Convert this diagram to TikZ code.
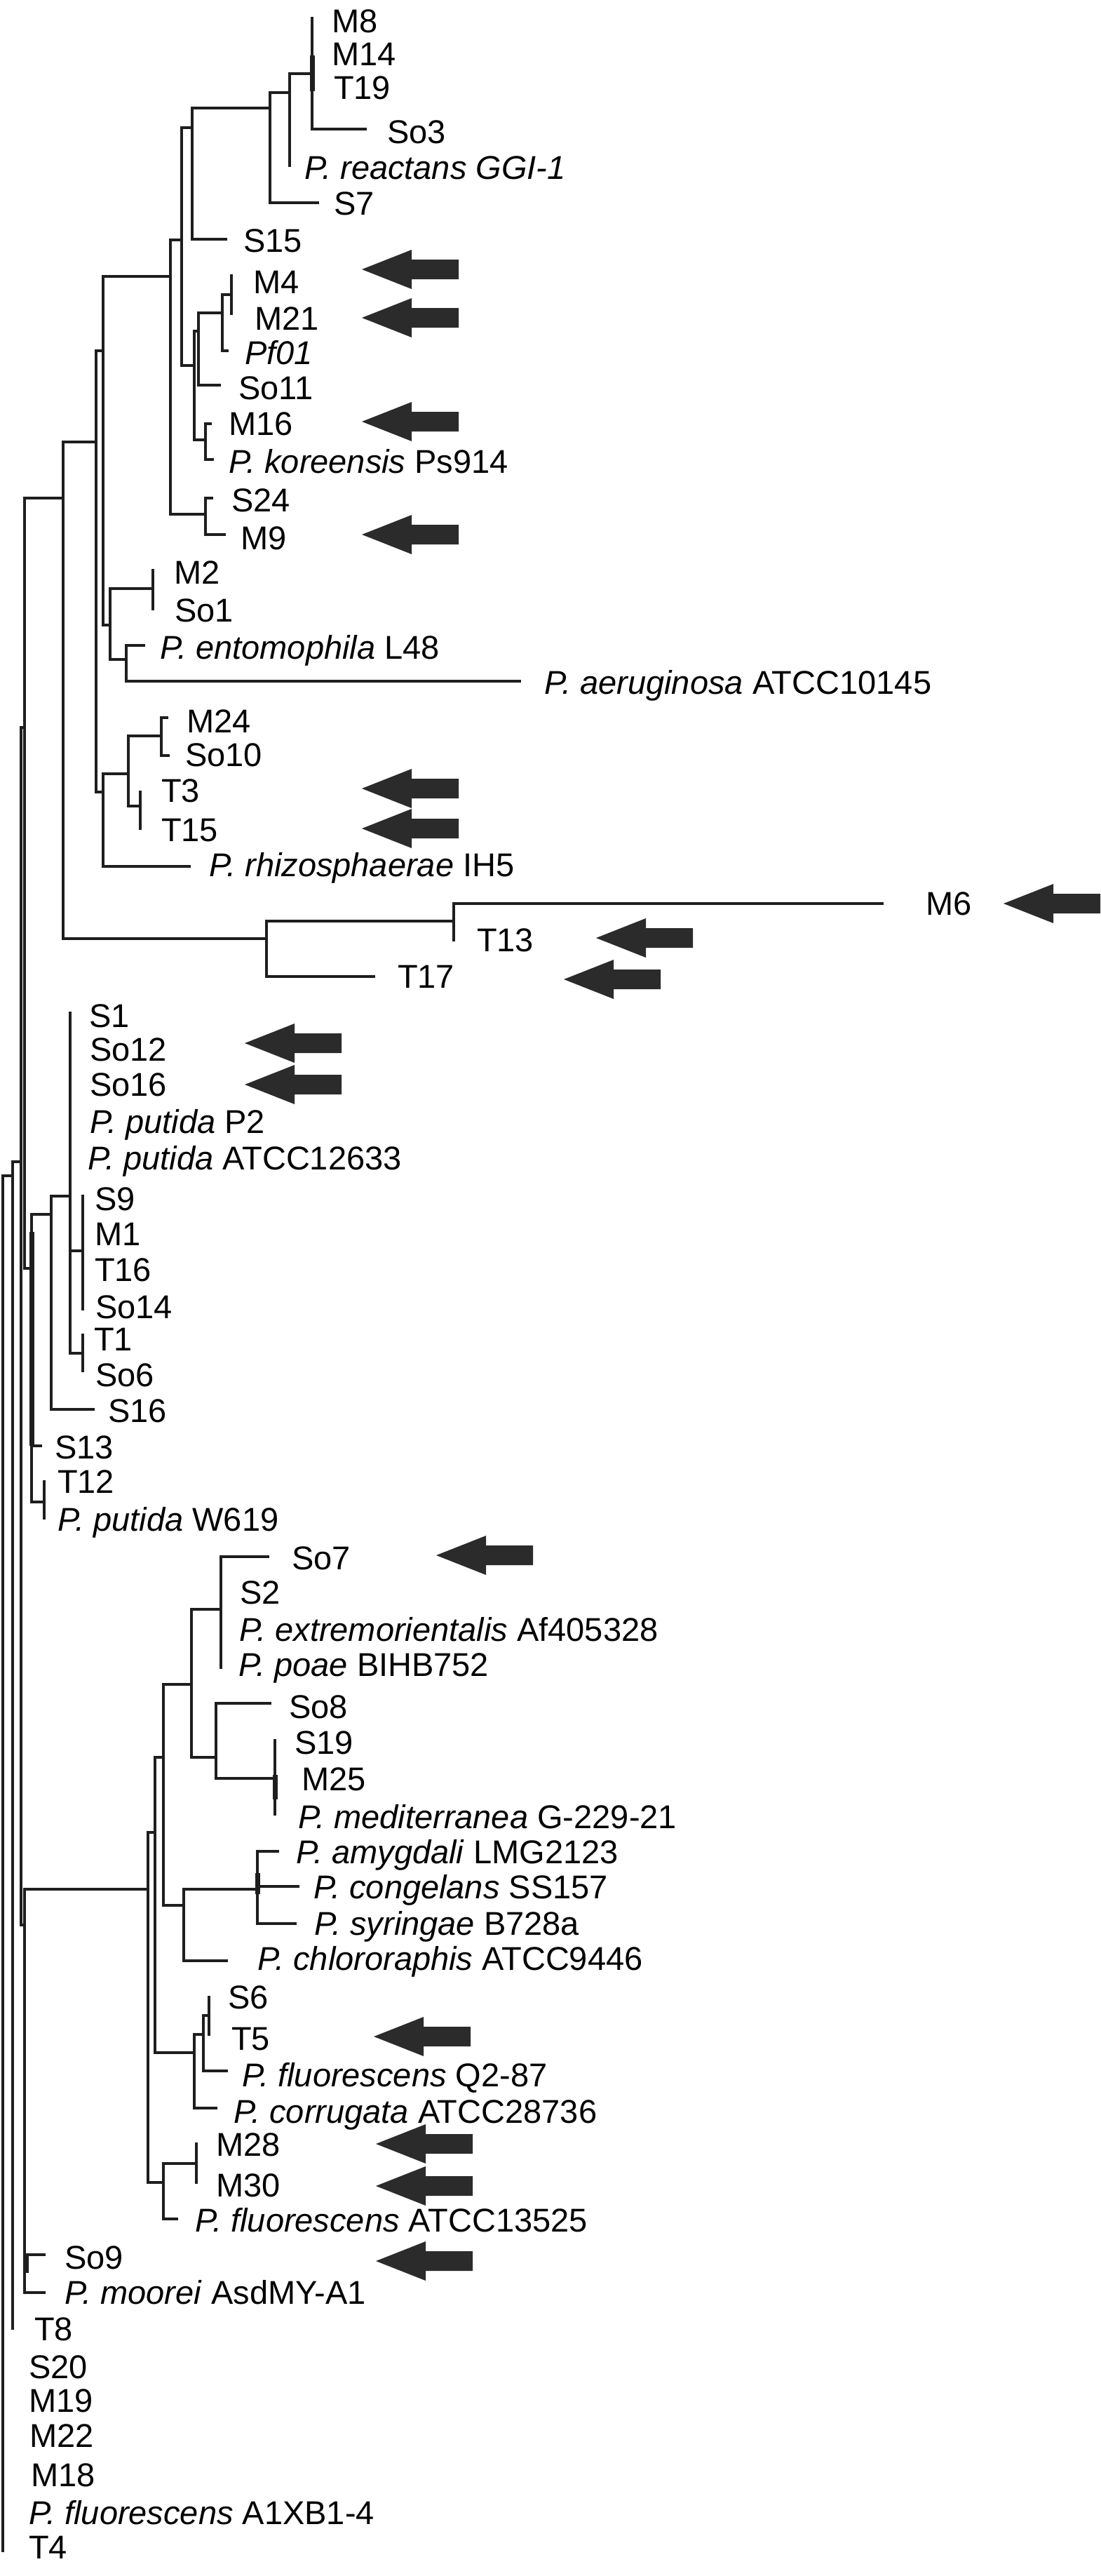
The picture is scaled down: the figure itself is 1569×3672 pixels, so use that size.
\documentclass[tikz,border=0pt]{standalone}
\usepackage{fontspec}
\setmainfont{Liberation Sans}
\definecolor{linec}{HTML}{1E1E1E}
\definecolor{arrowc}{HTML}{2B2B2B}
\tikzset{
  br/.style={line width=3.2pt, draw=linec, line cap=rect},
  thk/.style={line width=7pt, draw=linec},
  arrc/.style={fill=arrowc},
  lab/.style={anchor=base west, inner sep=0pt, outer sep=0pt, text=black, font=\fontsize{47}{56}\selectfont}
}
\newcommand\hbr[3]{\draw[br] (#2,#1) -- (#3,#1);}
\newcommand\vbr[3]{\draw[br] (#1,#2) -- (#1,#3);}
\newcommand\vthk[3]{\draw[thk] (#1,#2) -- (#1,#3);}
\newcommand\leaf[4]{\node[lab] (#1) at (#2,#3+17) {#4};}
\newcommand\blkarr[2]{\fill[arrc] (#1,#2) -- ++(71,-28) -- ++(0,14) -- ++(67,0) -- ++(0,28) -- ++(-67,0) -- ++(0,14) -- cycle;}
\begin{document}
\begin{tikzpicture}[x=1pt,y=-1pt]
\fill[white] (0,0) rectangle (1569,3672);
\useasboundingbox (0,0) rectangle (1569,3672);

% ---------- upper clade ----------
\vbr{445}{26}{184} \vthk{445}{79}{130}
\hbr{184}{445}{521}
\hbr{105}{413}{445}
\vbr{413}{105}{236}
\hbr{132}{385}{413}
\vbr{385}{132}{289}
\hbr{289}{385}{453}
\hbr{154}{274}{385}
\vbr{274}{154}{341}
\hbr{341}{274}{322}
\hbr{182}{259}{274}
\vbr{259}{182}{521}
\hbr{521}{259}{277}
\vbr{277}{472}{627}
\hbr{472}{277}{283}
\vbr{283}{446}{549}
\hbr{549}{283}{313}
\hbr{446}{283}{317}
\vbr{317}{420}{500}
\hbr{500}{317}{324}
\hbr{420}{317}{330}
\vbr{330}{393}{447}
\hbr{627}{277}{293}
\vbr{293}{604}{655}
\hbr{604}{293}{300} \hbr{655}{293}{303}
\hbr{342}{243}{259}
\vbr{243}{342}{733}
\hbr{733}{243}{293}
\vbr{293}{710}{762}
\hbr{710}{293}{302} \hbr{762}{293}{320}
\hbr{394}{147}{243}
\vbr{147}{394}{891}
\hbr{891}{147}{157}
\vbr{157}{839}{940}
\hbr{839}{157}{218}
\vbr{218}{813}{868}
\hbr{940}{157}{180}
\vbr{180}{920}{971}
\hbr{920}{180}{205}
\hbr{971}{180}{741}
\hbr{500}{137}{147}
\vbr{137}{500}{1129}
\hbr{1129}{137}{147}
\vbr{147}{1103}{1235}
\hbr{1103}{147}{183}
\vbr{183}{1049}{1149}
\hbr{1049}{183}{230}
\vbr{230}{1023}{1077}
\hbr{1023}{230}{238} \hbr{1077}{230}{240}
\hbr{1149}{183}{200}
\vbr{200}{1129}{1181}
\hbr{1235}{147}{270}
\hbr{630}{90}{137}
\vbr{90}{630}{1338}
\hbr{1338}{90}{380}
\vbr{380}{1313}{1392}
\hbr{1313}{380}{647}
\vbr{647}{1288}{1340}
\hbr{1288}{647}{1258}
\hbr{1392}{380}{533}
\hbr{710}{35}{90}
\vbr{35}{710}{1808}
\hbr{1037}{30}{35}
\vbr{30}{1037}{2744}
\hbr{1656}{18}{30}
\vbr{18}{1656}{3319}
\hbr{1676}{4}{18}
\vbr{4}{1676}{3636}

% ---------- putida clade ----------
\hbr{1808}{35}{45}
\vbr{45}{1731}{2141} \vthk{45}{1756}{2061}
\hbr{1731}{45}{73}
\vbr{73}{1705}{2009}
\hbr{1705}{73}{100}
\vbr{100}{1444}{1929}
\hbr{1783}{100}{118}
\vbr{118}{1705}{1866}
\hbr{1929}{100}{118}
\vbr{118}{1903}{1954}
\hbr{2009}{73}{133}
\hbr{2061}{45}{58}
\hbr{2141}{45}{63}
\vbr{63}{2112}{2164}

% ---------- fluorescens clade ----------
\hbr{2744}{30}{35}
\vbr{35}{2693}{3268}
\hbr{2693}{35}{211}
\hbr{3214}{35}{63} \vthk{37}{3214}{3240}
\hbr{3268}{35}{63}
\vbr{211}{2612}{3111}
\hbr{2612}{211}{221}
\vbr{221}{2505}{2926}
\hbr{2505}{221}{233}
\vbr{233}{2401}{2716}
\hbr{2401}{233}{273}
\vbr{273}{2294}{2505}
\hbr{2294}{273}{315}
\vbr{315}{2219}{2377}
\hbr{2219}{315}{382}
\hbr{2505}{273}{308}
\vbr{308}{2428}{2535}
\hbr{2428}{308}{385}
\hbr{2535}{308}{392}
\vbr{392}{2481}{2586} \vthk{392}{2530}{2565}
\hbr{2716}{233}{262}
\vbr{262}{2693}{2795}
\hbr{2693}{262}{367}
\vbr{367}{2639}{2742} \vthk{367}{2670}{2700}
\hbr{2639}{367}{396}
\hbr{2689}{367}{425}
\hbr{2742}{367}{421}
\hbr{2795}{262}{323}
\hbr{2926}{221}{277}
\vbr{277}{2900}{3005}
\hbr{2900}{277}{290}
\vbr{290}{2873}{2952}
\hbr{2873}{290}{298}
\vbr{298}{2847}{2900}
\hbr{2952}{290}{323}
\hbr{3005}{277}{308}
\hbr{3111}{211}{233}
\vbr{233}{3084}{3163}
\hbr{3084}{233}{280}
\vbr{280}{3056}{3111}
\hbr{3163}{233}{252}

% ---------- labels ----------
\leaf{M8}{473}{30}{M8}
\leaf{M14}{473}{76}{M14}
\leaf{T19}{476}{124}{T19}
\leaf{So3}{552}{187}{So3}
\leaf{Preac}{434}{238}{\textit{P. reactans GGI-1}}
\leaf{S7}{476}{289}{S7}
\leaf{S15}{347}{342}{S15}
\leaf{M4}{361}{401}{M4}
\leaf{M21}{363}{453}{M21}
\leaf{Pf01}{349}{502}{\textit{Pf01}}
\leaf{So11}{340}{552}{So11}
\leaf{M16}{326}{603}{M16}
\leaf{Pkor}{326}{657}{\textit{P. koreensis} Ps914}
\leaf{S24}{330}{712}{S24}
\leaf{M9}{343}{766}{M9}
\leaf{M2}{248}{815}{M2}
\leaf{So1}{249}{869}{So1}
\leaf{Pent}{228}{922}{\textit{P. entomophila} L48}
\leaf{Paer}{776}{972}{\textit{P. aeruginosa} ATCC10145}
\leaf{M24}{266}{1027}{M24}
\leaf{So10}{264}{1075}{So10}
\leaf{T3}{230}{1126}{T3}
\leaf{T15}{230}{1182}{T15}
\leaf{Prhi}{298}{1232}{\textit{P. rhizosphaerae} IH5}
\leaf{M6}{1320}{1287}{M6}
\leaf{T13}{680}{1339}{T13}
\leaf{T17}{567}{1391}{T17}
\leaf{S1}{127}{1447}{S1}
\leaf{So12}{128}{1495}{So12}
\leaf{So16}{128}{1545}{So16}
\leaf{PputP}{128}{1598}{\textit{P. putida} P2}
\leaf{PputA}{125}{1650}{\textit{P. putida} ATCC12633}
\leaf{S9}{135}{1708}{S9}
\leaf{M1}{135}{1758}{M1}
\leaf{T16}{135}{1809}{T16}
\leaf{So14}{136}{1862}{So14}
\leaf{T1}{134}{1908}{T1}
\leaf{So6}{136}{1959}{So6}
\leaf{S16}{154}{2010}{S16}
\leaf{S13}{78}{2062}{S13}
\leaf{T12}{82}{2111}{T12}
\leaf{PputW}{82}{2165}{\textit{P. putida} W619}
\leaf{So7}{416}{2220}{So7}
\leaf{S2}{342}{2269}{S2}
\leaf{Pext}{341}{2322}{\textit{P. extremorientalis} Af405328}
\leaf{Ppoae}{340}{2372}{\textit{P. poae} BIHB752}
\leaf{So8}{412}{2432}{So8}
\leaf{S19}{420}{2483}{S19}
\leaf{M25}{430}{2535}{M25}
\leaf{Pmed}{425}{2589}{\textit{P. mediterranea} G-229-21}
\leaf{Pamy}{422}{2639}{\textit{P. amygdali} LMG2123}
\leaf{Pcon}{447}{2689}{\textit{P. congelans} SS157}
\leaf{Psyr}{448}{2741}{\textit{P. syringae} B728a}
\leaf{Pchl}{367}{2791}{\textit{P. chlororaphis} ATCC9446}
\leaf{S6}{325}{2846}{S6}
\leaf{T5}{330}{2905}{T5}
\leaf{PfQ}{345}{2957}{\textit{P. fluorescens} Q2-87}
\leaf{Pcor}{333}{3009}{\textit{P. corrugata} ATCC28736}
\leaf{M28}{308}{3056}{M28}
\leaf{M30}{308}{3114}{M30}
\leaf{PfA}{278}{3164}{\textit{P. fluorescens} ATCC13525}
\leaf{So9}{92}{3217}{So9}
\leaf{Pmoo}{92}{3267}{\textit{P. moorei} AsdMY-A1}
\leaf{T8}{49}{3319}{T8}
\leaf{S20}{41}{3373}{S20}
\leaf{M19}{41}{3421}{M19}
\leaf{M22}{42}{3471}{M22}
\leaf{M18}{44}{3527}{M18}
\leaf{PfX}{41}{3581}{\textit{P. fluorescens} A1XB1-4}
\leaf{T4}{41}{3630}{T4}

% ---------- arrows ----------
\blkarr{516}{384}
\blkarr{516}{453}
\blkarr{516}{601}
\blkarr{516}{762}
\blkarr{516}{1124}
\blkarr{516}{1181}
\blkarr{1431}{1288}
\blkarr{850}{1337}
\blkarr{804}{1396}
\blkarr{349}{1487}
\blkarr{349}{1546}
\blkarr{622}{2217}
\blkarr{533}{2903}
\blkarr{536}{3056}
\blkarr{536}{3116}
\blkarr{536}{3223}
\end{tikzpicture}
\end{document}
